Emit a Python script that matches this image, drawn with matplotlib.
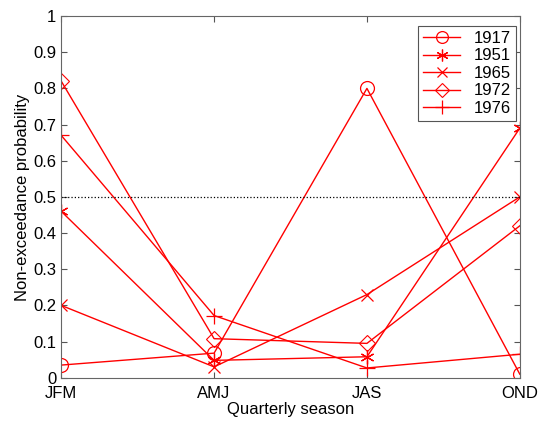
import matplotlib
matplotlib.use('Agg')
import matplotlib.pyplot as plt

plt.rcParams['font.family'] = ['Liberation Sans', 'DejaVu Sans']

seasons = ['JFM', 'AMJ', 'JAS', 'OND']
years = ['1917', '1951', '1965', '1972', '1976']
p1917 = [0.035, 0.068, 0.80, 0.01]
p1951 = [0.46, 0.048, 0.058, 0.69]
p1965 = [0.20, 0.03, 0.23, 0.50]
p1972 = [0.82, 0.108, 0.095, 0.42]
p1976 = [0.67, 0.172, 0.027, 0.065]

series = [p1917, p1951, p1965, p1972, p1976]
markers = ['o', (6, 2, 0), 'x', 'D', '+']
msizes = [10, 10, 8, 8, 12]

fig = plt.figure(figsize=(5.42, 4.23), dpi=100)
ax = fig.add_axes([0.113, 0.107, 0.846, 0.855])

x = range(len(seasons))
for vals, yr, m, ms in zip(series, years, markers, msizes):
    ax.plot(x, vals, color='red', lw=1, marker=m, ms=ms,
            mfc='none', mec='red', mew=0.9 if m != 'D' else 0.8, label=yr)

ax.axhline(0.5, color='black', ls=':', lw=0.9)

ax.set_xlim(0, 3)
ax.set_ylim(0, 1)
ax.set_xticks(list(x))
ax.set_xticklabels(seasons)
ax.set_yticks([i / 10 for i in range(11)])
ax.set_yticklabels(['0', '0.1', '0.2', '0.3', '0.4', '0.5', '0.6', '0.7', '0.8', '0.9', '1'])
ax.tick_params(direction='in', top=True, right=True, labelsize=12, length=4, color='#555555')
ax.tick_params(axis='x', pad=6)
for s in ax.spines.values():
    s.set_color('#666666')
ax.set_xlabel('Quarterly season', fontsize=12, labelpad=1)
ax.set_ylabel('Non-exceedance probability', fontsize=12, labelpad=2)

leg = ax.legend(loc='upper right', fontsize=12, fancybox=False, framealpha=1,
                edgecolor='#555555', handlelength=2.2, borderaxespad=0.2,
                labelspacing=0.15, borderpad=0.3, markerscale=0.85,
                bbox_to_anchor=(0.998, 0.982))
leg.get_frame().set_linewidth(0.8)

fig.savefig('out.png', dpi=100)
